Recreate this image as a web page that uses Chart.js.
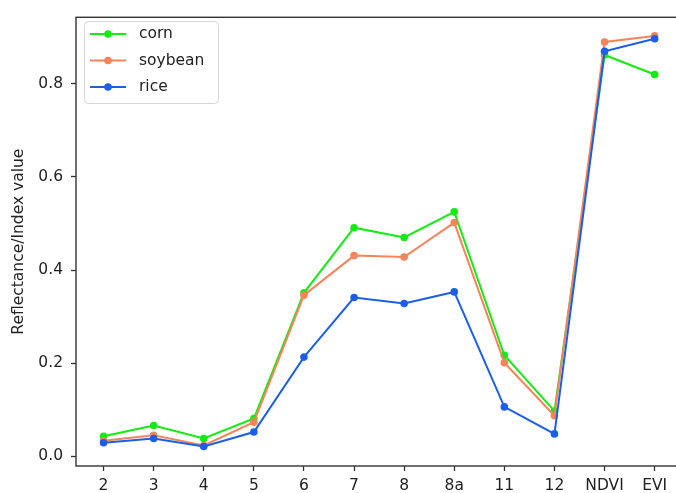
<!DOCTYPE html>
<html>
<head>
<meta charset="utf-8">
<script src="https://cdn.jsdelivr.net/npm/chart.js@4"></script>
<style>
  html, body { margin: 0; padding: 0; background: #fff; overflow: hidden; }
  #wrap { width: 686px; height: 493px; }
</style>
</head>
<body>
<div id="wrap"><canvas id="chart" width="686" height="493"></canvas></div>
<script>
// band names along the x axis
const bands = ['2', '3', '4', '5', '6', '7', '8', '8a', '11', '12', 'NDVI', 'EVI'];

// values
const corn    = [0.043, 0.066, 0.038, 0.081, 0.351, 0.491, 0.470, 0.525, 0.217, 0.097, 0.862, 0.820];
const soybean = [0.033, 0.045, 0.023, 0.073, 0.346, 0.431, 0.428, 0.502, 0.201, 0.087, 0.890, 0.903];
const rice    = [0.029, 0.038, 0.021, 0.052, 0.213, 0.341, 0.328, 0.353, 0.106, 0.048, 0.870, 0.897];

const yTicks = [0.0, 0.2, 0.4, 0.6, 0.8];

const seriesNames = ['corn', 'soybean', 'rice'];
const seriesColors = ['#14ea14', '#f5845a', '#1c5fe6'];

const FONT = 'DejaVu Sans';
const FS = 15.5;

function toPoints(values)
{
    return values.map((v, i) => ({x: i, y: v}));
}

// matplotlib style legend box (line + marker)
const legendBox = {
    id: 'legendBox',
    afterDraw(chart) {
        const ctx = chart.ctx;
        const x0 = 84, y0 = 21, w = 134, h = 82;
        ctx.save();
        ctx.beginPath();
        ctx.roundRect(x0 + 0.5, y0 + 0.5, w, h, 4);
        ctx.fillStyle = 'rgba(255,255,255,0.85)';
        ctx.fill();
        ctx.strokeStyle = '#d6d6d6';
        ctx.lineWidth = 1;
        ctx.stroke();

        const rows = [34, 60.5, 87];
        ctx.font = FS + 'px "' + FONT + '"';
        ctx.textBaseline = 'middle';
        ctx.textAlign = 'left';
        for (let i = 0; i < seriesNames.length; i++)
        {
            const y = rows[i];
            ctx.strokeStyle = seriesColors[i];
            ctx.lineWidth = 2;
            ctx.beginPath();
            ctx.moveTo(90, y);
            ctx.lineTo(126, y);
            ctx.stroke();
            ctx.fillStyle = seriesColors[i];
            ctx.beginPath();
            ctx.arc(108, y, 3.8, 0, Math.PI * 2);
            ctx.fill();
            ctx.fillStyle = '#222';
            ctx.fillText(seriesNames[i], 139, y);
        }
        ctx.restore();
    }
};

// axes frame (all four spines)
const frame = {
    id: 'frame',
    afterDatasetsDraw(chart) {
        const a = chart.chartArea;
        const ctx = chart.ctx;
        ctx.save();
        ctx.strokeStyle = '#333';
        ctx.lineWidth = 1.4;
        ctx.strokeRect(a.left, a.top, a.right - a.left, a.bottom - a.top);
        ctx.restore();
    }
};

const datasets = [corn, soybean, rice].map((vals, i) => ({
    label: seriesNames[i],
    data: toPoints(vals),
    borderColor: seriesColors[i],
    backgroundColor: seriesColors[i],
    borderWidth: 2,
    pointRadius: 3.8,
    pointBorderWidth: 0,
    pointHoverRadius: 3.8,
    tension: 0,
    order: 3 - i
}));

new Chart(document.getElementById('chart'), {
    type: 'line',
    data: { datasets: datasets },
    options: {
        responsive: false,
        animation: false,
        devicePixelRatio: 1,
        layout: { padding: { left: 0, top: 13, right: 1.7, bottom: 0 } },
        plugins: {
            legend: { display: false },
            tooltip: { enabled: false }
        },
        scales: {
            x: {
                type: 'linear',
                min: -0.55,
                max: 11.55,
                afterFit: s => { s.height = 27; },
                border: { display: false },
                grid: {
                    drawOnChartArea: false,
                    drawTicks: true,
                    tickLength: 5,
                    color: '#333',
                    tickWidth: 1.3
                },
                ticks: {
                    stepSize: 1,
                    includeBounds: false,
                    autoSkip: false,
                    maxRotation: 0,
                    padding: 6,
                    color: '#222',
                    font: { family: FONT, size: FS },
                    callback: v => bands[v] ?? ''
                }
            },
            y: {
                type: 'linear',
                min: -0.021,
                max: 0.943,
                afterFit: s => { s.width = 76; },
                afterBuildTicks: s => { s.ticks = yTicks.map(v => ({value: v})); },
                border: { display: false },
                grid: {
                    drawOnChartArea: false,
                    drawTicks: true,
                    tickLength: 5,
                    color: '#333',
                    tickWidth: 1.3
                },
                ticks: {
                    padding: 8,
                    color: '#222',
                    font: { family: FONT, size: FS },
                    callback: v => Number(v).toFixed(1)
                },
                title: {
                    display: true,
                    text: 'Reflectance/Index value',
                    color: '#222',
                    font: { family: FONT, size: FS },
                    padding: { top: 10, bottom: 0 }
                }
            }
        }
    },
    plugins: [frame, legendBox]
});
</script>
</body>
</html>
